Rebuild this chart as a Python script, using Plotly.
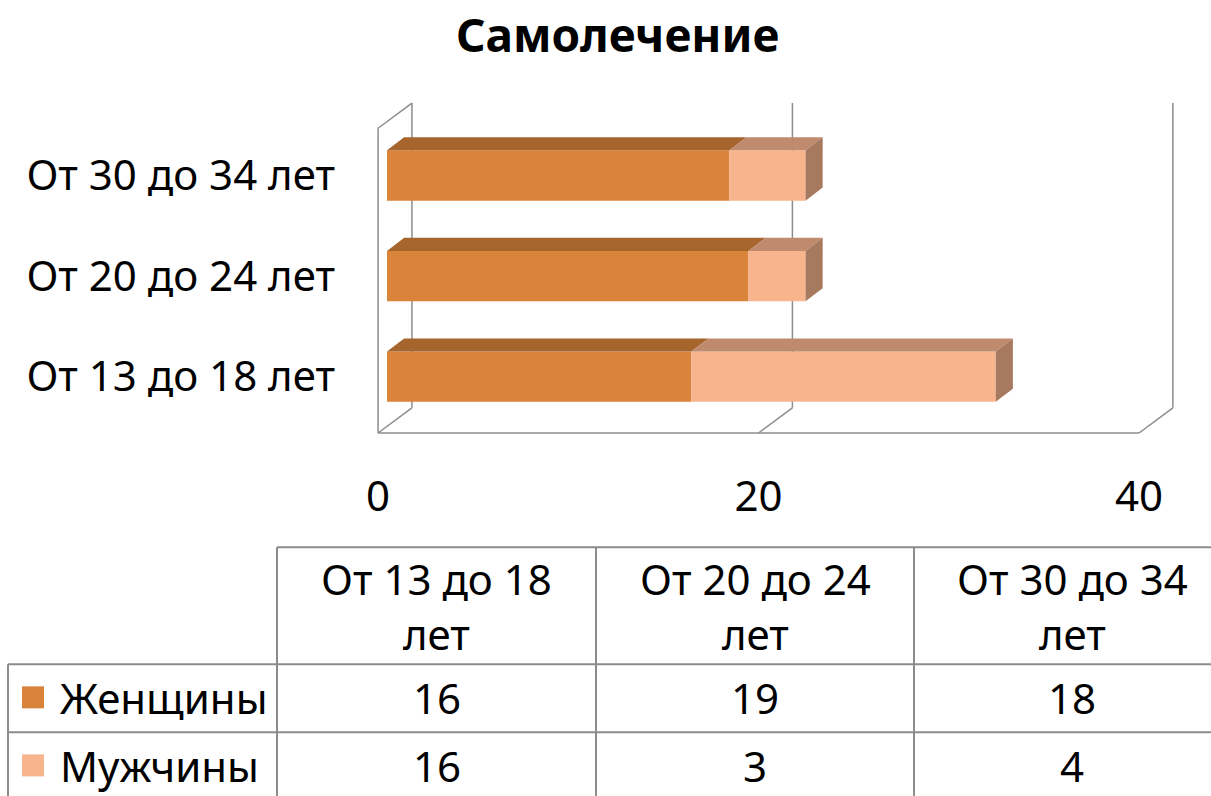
import plotly.graph_objects as go

# данные
categories = ['От 13 до 18 лет', 'От 20 до 24 лет', 'От 30 до 34 лет']
table_headers = ['От 13 до 18<br>лет', 'От 20 до 24<br>лет', 'От 30 до 34<br>лет']
series_names = ['Женщины', 'Мужчины']
women = [16, 19, 18]
men = [16, 3, 4]
x_ticks = [0, 20, 40]

FONT = 'Noto Sans'
FS = 42
front_col = ['#DA833B', '#F8B48C']
top_col = ['#A6652C', '#BF8A6E']
side_col = ['#9E6A3E', '#A77A60']
grid = '#8C8C8C'

# 3D offsets (in axis units)
bw = 0.5      # bar thickness
ddx, ddy = 0.9, 0.13     # bar depth
wdx, wdy = 1.78, 0.25    # wall depth
fx0, fy0 = -0.47, -0.56  # front floor corner

W, H = 1211, 796
L, R, T = 368, 25, 85
XR = [-1, 42]
YR = [-0.6, 2.9]
pw = W - L - R
ph = 436.8 - T
B = H - T - ph


def px(x):
    return (x - L) / pw


def py(y):
    return (H - B - y) / ph


fig = go.Figure()
ypos = list(range(len(categories)))

# передние грани
vals = [women, men]
for i, name in enumerate(series_names):
    base = [0] * len(ypos) if i == 0 else women
    fig.add_trace(go.Bar(y=ypos, x=vals[i], base=base, orientation='h', width=bw,
                         marker=dict(color=front_col[i], line=dict(width=0)),
                         name=name, showlegend=False))

# верхние и боковые грани
for k in ypos:
    segs = [(0, women[k]), (women[k], women[k] + men[k])]
    for i, (a, b) in enumerate(segs):
        yt = k + bw / 2
        fig.add_trace(go.Scatter(x=[a, b, b + ddx, a + ddx, a], y=[yt, yt, yt + ddy, yt + ddy, yt],
                                 fill='toself', fillcolor=top_col[i], mode='none',
                                 showlegend=False, hoverinfo='skip'))
    end = women[k] + men[k]
    fig.add_trace(go.Scatter(x=[end, end + ddx, end + ddx, end, end],
                             y=[k - bw / 2, k - bw / 2 + ddy, k + bw / 2 + ddy, k + bw / 2, k - bw / 2],
                             fill='toself', fillcolor=side_col[1], mode='none',
                             showlegend=False, hoverinfo='skip'))

# стенки и пол
shapes = []
ln = dict(color=grid, width=1.5)
ytop_back = 2.72
for v in x_ticks:
    shapes.append(dict(type='line', xref='x', yref='y', x0=v + fx0 + wdx, x1=v + fx0 + wdx,
                       y0=fy0 + wdy, y1=ytop_back, line=ln, layer='below'))
    shapes.append(dict(type='line', xref='x', yref='y', x0=v + fx0, x1=v + fx0 + wdx,
                       y0=fy0, y1=fy0 + wdy, line=ln, layer='below'))
shapes.append(dict(type='line', xref='x', yref='y', x0=fx0, x1=x_ticks[-1] + fx0,
                   y0=fy0, y1=fy0, line=ln, layer='below'))
shapes.append(dict(type='line', xref='x', yref='y', x0=fx0, x1=fx0,
                   y0=fy0, y1=ytop_back - wdy, line=ln, layer='below'))
shapes.append(dict(type='line', xref='x', yref='y', x0=fx0, x1=fx0 + wdx,
                   y0=ytop_back - wdy, y1=ytop_back, line=ln, layer='below'))

# таблица данных
tl = dict(color=grid, width=2)
col_x = [277, 596, 914, 1232]
row_y = [547, 664, 732, 800]
shapes.append(dict(type='line', xref='paper', yref='paper', x0=px(col_x[0]), x1=px(W),
                   y0=py(row_y[0]), y1=py(row_y[0]), line=tl))
for r in row_y[1:3]:
    shapes.append(dict(type='line', xref='paper', yref='paper', x0=px(8), x1=px(W),
                       y0=py(r), y1=py(r), line=tl))
for c in col_x[:3]:
    shapes.append(dict(type='line', xref='paper', yref='paper', x0=px(c), x1=px(c),
                       y0=py(row_y[0]), y1=py(H), line=tl))
shapes.append(dict(type='line', xref='paper', yref='paper', x0=px(8), x1=px(8),
                   y0=py(row_y[1]), y1=py(H), line=tl))

ann = []
fnt = dict(family=FONT, size=FS, color='black')
for j, h in enumerate(table_headers):
    cx = (col_x[j] + col_x[j + 1]) / 2 if j < 2 else (914 + 1230) / 2
    ann.append(dict(x=px(cx), y=py((row_y[0] + row_y[1]) / 2), xref='paper', yref='paper',
                    text=h, showarrow=False, font=fnt, align='center', xanchor='center', yanchor='middle'))
    for i in range(2):
        ann.append(dict(x=px(cx), y=py([697, 765][i]), xref='paper', yref='paper',
                        text=str(vals[i][j]), showarrow=False, font=fnt, xanchor='center', yanchor='middle'))
for i, name in enumerate(series_names):
    yc = [697, 765][i]
    shapes.append(dict(type='rect', xref='paper', yref='paper', x0=px(22), x1=px(44),
                       y0=py(yc - 11), y1=py(yc + 11), fillcolor=front_col[i], line=dict(width=0)))
    ann.append(dict(x=px(58), y=py(yc), xref='paper', yref='paper', text=name, showarrow=False,
                    font=fnt, xanchor='left', yanchor='middle'))

fig.update_layout(
    width=W, height=H,
    margin=dict(l=L, r=R, t=T, b=B),
    plot_bgcolor='white', paper_bgcolor='white',
    title=dict(text='<b>Самолечение</b>', x=0.51, xanchor='center', y=0.955, yanchor='middle',
               font=dict(family=FONT, size=46, color='black')),
    xaxis=dict(range=XR, showgrid=False, zeroline=False, showline=False,
               tickvals=[v + fx0 for v in x_ticks], ticktext=[str(v) for v in x_ticks],
               tickfont=dict(family=FONT, size=FS, color='black'), ticklabelstandoff=31),
    yaxis=dict(range=YR, showgrid=False, zeroline=False, showline=False,
               tickvals=ypos, ticktext=categories,
               tickfont=dict(family=FONT, size=FS, color='black'), ticklabelstandoff=32),
    barmode='overlay',
    shapes=shapes, annotations=ann,
)

# убрать отступ страницы, чтобы график стоял в углу окна
fig.write_html('out.html', config={'displayModeBar': False},
               post_script="document.body.style.margin='0';")
